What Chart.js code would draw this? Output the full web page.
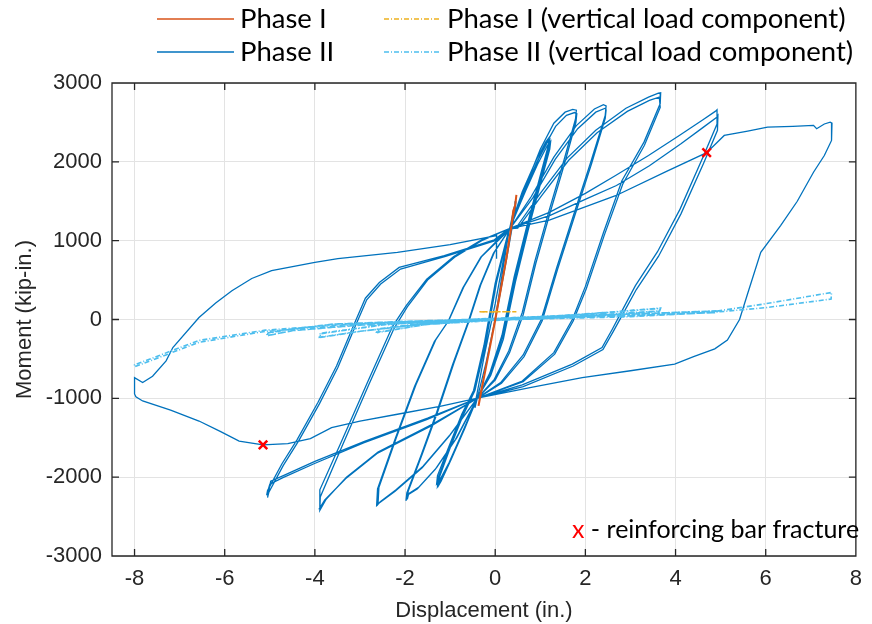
<!DOCTYPE html>
<html>
<head>
<meta charset="utf-8">
<script src="https://cdn.jsdelivr.net/npm/chart.js@4/dist/chart.umd.min.js"></script>
<style>
  html, body { margin: 0; padding: 0; background: #fff; }
  canvas { display: block; }
</style>
</head>
<body>
<canvas id="myChart" width="872" height="624"></canvas>
<script>
// axis ticks
const xTicks = [-8, -6, -4, -2, 0, 2, 4, 6, 8];
const yTicks = [-3000, -2000, -1000, 0, 1000, 2000, 3000];

// Phase I: displacement (in.), moment (kip-in.)
const phase1 = [[0, 0], [0.25, 780], [0.36, 1180], [0.4, 1380], [0.44, 1440], [0.47, 1580], [0.45, 1480],
    [0.38, 1260], [0.2, 620], [0, -10], [-0.2, -590], [-0.37, -1096], [-0.33, -960], [-0.1, -300], [0, 0]];
const phase1Vert = [[0, 100], [0.47, 97], [-0.37, 97], [0, 95]];

// Phase II, cycle by cycle
const run0 = [[0, 0], [0.15, 560], [0.3, 1100], [0.42, 1420], [0.46, 1500], [0.44, 1380], [0.25, 760], [0.02, 60],
    [-0.2, -540], [-0.38, -960], [-0.45, -1120], [-0.43, -1020], [-0.25, -480], [0, 200], [0.3, 1120]];

const run1 = [[0.6, 1620], [0.9, 2010], [1.12, 2250], [1.2, 2310], [1.18, 2210], [0.95, 1720], [0.7, 1180], [0.42, 540],
    [0.15, -200], [-0.12, -680], [-0.4, -1000], [-0.68, -1390], [-0.98, -1780], [-1.2, -2050], [-1.25, -2100],
    [-1.23, -1990], [-0.98, -1600], [-0.7, -1200], [-0.45, -900], [-0.22, -330], [0.03, 470], [0.3, 1120],
    [0.62, 1600], [0.92, 1990], [1.14, 2230], [1.21, 2280], [1.19, 2180], [0.96, 1690], [0.71, 1150], [0.43, 500],
    [0.16, -230], [-0.12, -700], [-0.4, -1000], [-0.7, -1410], [-1.0, -1800], [-1.23, -2070], [-1.28, -2120],
    [-1.26, -2000], [-1.0, -1610], [-0.72, -1210], [-0.46, -910], [-0.23, -340], [0.02, 460], [0.3, 1120],
    [0.64, 1590], [0.94, 1970], [1.16, 2210], [1.23, 2260], [1.21, 2160], [0.98, 1670], [0.73, 1130], [0.45, 480],
    [0.18, -250], [-0.1, -710], [-0.4, -1000], [-0.72, -1420], [-1.02, -1810], [-1.25, -2060], [-1.3, -2090],
    [-1.28, -1980], [-1.02, -1600], [-0.74, -1200], [-0.48, -900], [-0.25, -330], [0, 460], [0.3, 1130]];

const run2 = [[0.65, 1660], [1.0, 2160], [1.3, 2490], [1.55, 2630], [1.72, 2665], [1.8, 2655], [1.78, 2540],
    [1.52, 2010], [1.2, 1390], [0.88, 740], [0.6, 90], [0.3, -400], [-0.02, -760], [-0.4, -1000], [-0.85, -1500],
    [-1.3, -1880], [-1.7, -2130], [-1.92, -2210], [-1.95, -2280], [-1.93, -2180], [-1.62, -1710], [-1.27, -1160],
    [-0.92, -560], [-0.58, -20], [-0.32, 440], [-0.02, 850], [0.3, 1130],
    [0.68, 1640], [1.03, 2130], [1.34, 2450], [1.58, 2590], [1.76, 2625], [1.81, 2610], [1.79, 2500], [1.54, 1980],
    [1.22, 1360], [0.9, 710], [0.62, 60], [0.32, -420], [0, -770], [-0.4, -1000], [-0.88, -1520], [-1.33, -1900],
    [-1.73, -2150], [-1.95, -2230], [-1.98, -2300], [-1.96, -2200], [-1.65, -1730], [-1.3, -1180], [-0.95, -580],
    [-0.6, -30], [-0.34, 430], [-0.04, 840], [0.3, 1130]];

const run3 = [[0.8, 1560], [1.3, 2060], [1.8, 2460], [2.2, 2670], [2.4, 2725], [2.46, 2710], [2.44, 2590], [2.12, 2000],
    [1.74, 1330], [1.36, 650], [1.02, 0], [0.62, -450], [0.12, -800], [-0.4, -1000], [-1.0, -1460], [-1.6, -1860],
    [-2.2, -2160], [-2.55, -2310], [-2.6, -2345], [-2.58, -2130], [-2.2, -1510], [-1.76, -830], [-1.32, -260],
    [-1.02, 0], [-0.7, 410], [-0.3, 800], [0.3, 1130],
    [0.83, 1540], [1.33, 2030], [1.83, 2420], [2.23, 2630], [2.44, 2680], [2.46, 2660], [2.44, 2550], [2.14, 1980],
    [1.76, 1310], [1.38, 630], [1.04, -20], [0.64, -470], [0.14, -810], [-0.4, -1000], [-1.02, -1480], [-1.62, -1880],
    [-2.22, -2180], [-2.58, -2330], [-2.63, -2360], [-2.61, -2150], [-2.23, -1530], [-1.79, -850], [-1.35, -280],
    [-1.04, -20], [-0.72, 400], [-0.32, 790], [0.3, 1150]];

const run4 = [[0.47, 1170], [1.0, 1600], [1.6, 2050], [2.23, 2400], [2.9, 2680], [3.4, 2820], [3.62, 2870], [3.67, 2875],
    [3.66, 2740], [3.3, 2250], [2.81, 1760], [2.4, 1100], [2.0, 420], [1.71, 0], [1.3, -420], [0.6, -780], [-0.4, -1000],
    [-1.4, -1330], [-2.6, -1680], [-3.3, -2000], [-3.75, -2280], [-3.89, -2420], [-3.88, -2250], [-3.4, -1610],
    [-2.8, -820], [-2.25, -120], [-1.95, 160], [-1.5, 500], [-0.9, 790], [-0.3, 1000], [0.3, 1150],
    [0.5, 1160], [1.03, 1570], [1.63, 2020], [2.26, 2370], [2.93, 2640], [3.42, 2780], [3.64, 2820], [3.66, 2690],
    [3.31, 2210], [2.83, 1720], [2.42, 1070], [2.02, 390], [1.73, -20], [1.32, -440], [0.62, -790], [-0.4, -1000],
    [-1.42, -1350], [-2.62, -1700], [-3.32, -2020], [-3.78, -2290], [-3.9, -2400], [-3.89, -2160], [-3.42, -1560],
    [-2.82, -780], [-2.28, -90], [-1.97, 180], [-1.52, 510], [-0.92, 800], [-0.32, 1005], [0.3, 1150]];

const run5 = [[1.2, 1360], [2.0, 1600], [2.67, 1826], [3.4, 2080], [4.1, 2340], [4.6, 2530], [4.88, 2640], [4.92, 2660],
    [4.92, 2480], [4.6, 2050], [4.1, 1400], [3.6, 860], [3.11, 430], [2.85, 150], [2.6, -120], [2.37, -356],
    [1.71, -565], [0.6, -830], [-0.4, -1000], [-1.5, -1250], [-2.9, -1545], [-4.0, -1800], [-4.7, -1980],
    [-4.98, -2050], [-5.05, -2260], [-5.02, -2190], [-4.7, -1850], [-4.36, -1540], [-3.9, -1070], [-3.49, -610],
    [-3.1, -80], [-2.85, 250], [-2.54, 450], [-2.1, 640], [-1.1, 800], [0, 1000], [0.3, 1150],
    [1.22, 1320], [2.02, 1530], [2.69, 1700], [3.42, 1950], [4.12, 2230], [4.62, 2440], [4.9, 2560], [4.94, 2590],
    [4.93, 2400], [4.62, 1980], [4.12, 1340], [3.62, 800], [3.13, 380], [2.87, 110], [2.62, -150], [2.39, -380],
    [1.73, -590], [0.62, -850], [-0.4, -1000], [-1.52, -1270], [-2.92, -1565], [-4.02, -1830], [-4.72, -2010],
    [-5.0, -2090], [-5.07, -2230], [-5.05, -2170], [-4.73, -1830], [-4.39, -1520], [-3.93, -1050], [-3.52, -590],
    [-3.13, -60], [-2.88, 270], [-2.57, 470], [-2.13, 660], [-1.13, 810], [-0.02, 1010], [0.3, 1150]];

const runLast = [[1.2, 1260], [2.67, 1570], [3.8, 1880], [4.69, 2117], [5.08, 2335], [5.6, 2390], [6.04, 2440],
    [6.6, 2450], [7.06, 2462], [7.13, 2420], [7.3, 2480], [7.43, 2504], [7.47, 2490], [7.46, 2271], [7.3, 2080],
    [7.06, 1868], [6.7, 1500], [6.33, 1191], [5.89, 852], [5.6, 330], [5.42, 0], [5.15, -260], [4.87, -373],
    [4.4, -470], [3.98, -565], [3.0, -650], [1.93, -737], [0.8, -860], [-0.34, -991], [-1.2, -1100], [-2.17, -1202],
    [-3.0, -1290], [-3.63, -1372], [-4.1, -1510], [-4.6, -1575], [-5.15, -1590], [-5.68, -1542], [-6.1, -1420],
    [-6.57, -1288], [-7.2, -1150], [-7.82, -1033], [-7.97, -980], [-8.0, -944], [-8.0, -737], [-7.82, -800],
    [-7.6, -720], [-7.3, -525], [-7.15, -356], [-6.57, 25], [-6.2, 210], [-5.84, 365], [-5.4, 520], [-4.96, 619],
    [-4.0, 724], [-3.49, 771], [-2.17, 851], [-1.0, 950], [0.03, 1064], [0.03, 770]];

const phase2Vert = [[0, 0], [0.5, 10], [-0.45, -20], [0, 0],
    [1.2, 30], [0, 5], [-1.25, -45], [0, 0], [1.2, 25], [0, 0], [-1.28, -40], [0, 0],
    [1.8, 50], [0.5, 15], [-0.8, -15], [-1.95, -85], [-1.0, -30], [0, 5], [1.8, 45], [0, 0], [-1.97, -80], [-1.2, -35], [0, 5],
    [1.2, 40], [2.45, 90], [2.44, 60], [1.2, 20], [0, -10], [-1.5, -60], [-2.6, -165], [-2.58, -125], [-1.5, -40], [0, 10],
    [1.2, 35], [2.45, 85], [2.44, 55], [1.2, 15], [0, -12], [-1.5, -62], [-2.63, -160], [-2.6, -120], [-1.5, -38], [0, 10],
    [1.8, 60], [3.67, 145], [3.65, 110], [1.8, 40], [0, 0], [-1.5, -50], [-3.0, -150], [-3.89, -229], [-3.87, -180],
    [-2.5, -70], [-1, -10], [0, 15], [1.8, 55], [3.66, 140], [3.64, 105], [1.8, 35], [0, -2], [-1.5, -52], [-3.0, -150],
    [-3.9, -225], [-3.88, -175], [-2.5, -68], [-1, -8], [0, 15],
    [2, 50], [3.5, 80], [4.94, 110], [4.9, 90], [3, 50], [1, 15], [-1, -20], [-3, -70], [-4.5, -140], [-5.06, -207],
    [-5.04, -170], [-4.5, -120], [-3.6, -60], [-2, -25], [0, 10], [2, 48], [3.5, 78], [4.95, 108], [4.9, 88], [3, 48],
    [1, 13], [-1, -22], [-3, -72], [-4.5, -142], [-5.07, -205], [-5.05, -168], [-4.5, -118], [-3.6, -58], [-2, -23], [0, 10],
    [2, 30], [3, 45], [4.79, 95], [6, 200], [7.46, 343], [7.45, 259], [6, 150], [4.8, 89], [3, 35], [1, 8], [-1, -20],
    [-3, -60], [-5.1, -150], [-6.57, -290], [-8, -600], [-8, -575], [-6.57, -265], [-5.1, -135], [-3.63, -75], [-2, -28], [0, 0]];

// reinforcing bar fracture points
const fractureDisp = [4.69, -5.15];
const fractureMoment = [2117, -1590];

const toPts = arr => arr.map(([x, y]) => ({x, y}));
const phase2 = [...run0, ...run1, ...run2, ...run3, ...run4, ...run5, ...runLast];

const legendItems = [
    {text: 'Phase I', color: '#D95319', dash: [], col: 0, row: 0},
    {text: 'Phase I (vertical load component)', color: '#EDB120', dash: [5, 2, 1, 2], col: 1, row: 0},
    {text: 'Phase II', color: '#0072BD', dash: [], col: 0, row: 1},
    {text: 'Phase II (vertical load component)', color: '#4DBEEE', dash: [5, 2, 1, 2], col: 1, row: 1}
];

const frame = {
    id: 'frame',
    afterDatasetsDraw(chart) {
        const {ctx, chartArea: a, scales: {x, y}} = chart;
        ctx.save();
        ctx.strokeStyle = '#262626';
        ctx.lineWidth = 1.3;
        ctx.beginPath();
        ctx.rect(a.left, a.top, a.right - a.left, a.bottom - a.top);
        xTicks.forEach(v => {
            const px = x.getPixelForValue(v);
            ctx.moveTo(px, a.bottom); ctx.lineTo(px, a.bottom - 7);
            ctx.moveTo(px, a.top); ctx.lineTo(px, a.top + 7);
        });
        yTicks.forEach(v => {
            const py = y.getPixelForValue(v);
            ctx.moveTo(a.left, py); ctx.lineTo(a.left + 7, py);
            ctx.moveTo(a.right, py); ctx.lineTo(a.right - 7, py);
        });
        ctx.stroke();

        // legend
        ctx.font = '27.5px Lato';
        ctx.textBaseline = 'middle';
        legendItems.forEach(it => {
            const ly = it.row ? 52 : 19;
            const x0 = it.col ? 384 : 157;
            const x1 = it.col ? 441 : 234;
            ctx.strokeStyle = it.color;
            ctx.lineWidth = 1.5;
            ctx.setLineDash(it.dash);
            ctx.beginPath();
            ctx.moveTo(x0, ly); ctx.lineTo(x1, ly);
            ctx.stroke();
            ctx.setLineDash([]);
            ctx.fillStyle = '#000';
            ctx.fillText(it.text, it.col ? 447 : 240, ly);
        });

        // note
        ctx.font = '25px Lato';
        ctx.textBaseline = 'alphabetic';
        ctx.fillStyle = '#ff0000';
        ctx.fillText('x', 572, 538);
        const w = ctx.measureText('x').width;
        ctx.fillStyle = '#000';
        ctx.fillText(' - reinforcing bar fracture', 572 + w, 538);
        ctx.restore();
    }
};

const tickFont = {family: "'Liberation Sans', Arial, sans-serif", size: 22};

new Chart(document.getElementById('myChart'), {
    type: 'scatter',
    data: {
        datasets: [
            {
                label: 'fracture',
                data: fractureDisp.map((d, i) => ({x: d, y: fractureMoment[i]})),
                pointStyle: 'crossRot',
                pointRadius: 6,
                borderColor: '#ff0000',
                borderWidth: 2.5,
                order: 0
            },
            {
                label: 'Phase I (vertical load component)',
                data: toPts(phase1Vert),
                showLine: true,
                borderColor: '#EDB120',
                borderWidth: 1.5,
                borderDash: [5, 2, 1, 2],
                pointRadius: 0,
                order: 1
            },
            {
                label: 'Phase I',
                data: toPts(phase1),
                showLine: true,
                borderColor: '#D95319',
                borderWidth: 2,
                pointRadius: 0,
                order: 2
            },
            {
                label: 'Phase II (vertical load component)',
                data: toPts(phase2Vert),
                showLine: true,
                borderColor: '#4DBEEE',
                borderWidth: 1.6,
                borderDash: [5, 2, 1, 2],
                pointRadius: 0,
                order: 3
            },
            {
                label: 'Phase II',
                data: toPts(phase2),
                showLine: true,
                borderColor: '#0072BD',
                borderWidth: 1.3,
                pointRadius: 0,
                order: 4
            }
        ]
    },
    options: {
        responsive: false,
        animation: false,
        devicePixelRatio: 1,
        layout: {padding: {top: 83, right: 10, left: 0, bottom: 0}},
        plugins: {
            legend: {display: false},
            tooltip: {enabled: false}
        },
        scales: {
            x: {
                type: 'linear',
                min: -8.5,
                max: 8,
                afterFit: s => { s.height = 68; },
                afterBuildTicks: s => { s.ticks = xTicks.map(v => ({value: v})); },
                grid: {color: '#e3e3e3', drawTicks: false},
                border: {display: false},
                ticks: {font: tickFont, color: '#262626', padding: 10, callback: v => String(v)},
                title: {
                    display: true,
                    text: 'Displacement (in.)',
                    font: tickFont,
                    color: '#262626',
                    padding: {top: 0, bottom: 0}
                }
            },
            y: {
                type: 'linear',
                min: -3000,
                max: 3000,
                afterFit: s => { s.width = 112; },
                afterBuildTicks: s => { s.ticks = yTicks.map(v => ({value: v})); },
                grid: {color: '#e3e3e3', drawTicks: false},
                border: {display: false},
                ticks: {font: tickFont, color: '#262626', padding: 10, callback: v => String(v)},
                title: {
                    display: true,
                    text: 'Moment (kip-in.)',
                    font: tickFont,
                    color: '#262626',
                    padding: {top: 12, bottom: 0}
                }
            }
        }
    },
    plugins: [frame]
});
</script>
</body>
</html>
